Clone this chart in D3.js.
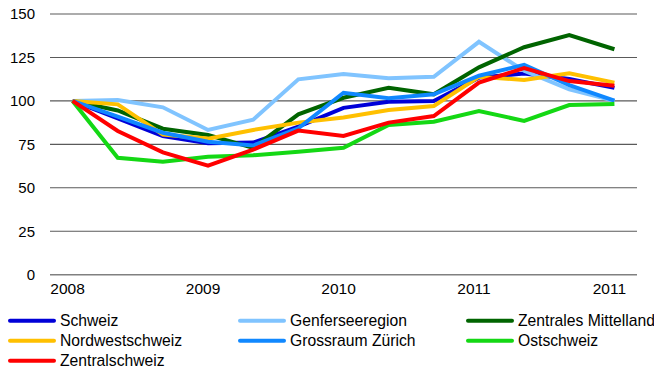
<!DOCTYPE html>
<html>
<head>
<meta charset="utf-8">
<script src="https://cdn.jsdelivr.net/npm/d3@7"></script>
<style>
  html, body { margin: 0; padding: 0; background: #fff; }
  svg { display: block; font-family: "Liberation Sans", Arial, sans-serif; }
</style>
</head>
<body>
<svg id="chart" width="654" height="372"></svg>
<script>
// Period labels along the x axis (only every third period is labelled)
const categories = ["2008", "", "", "2009", "", "", "2010", "", "", "2011", "", "", "2011"];
const yTicks = [0, 25, 50, 75, 100, 125, 150];

// Index values per region (2008 = 100)
const schweiz          = [100, 90, 79.8, 75.6, 76, 85.2, 96, 99.5, 99.9, 113.4, 115.7, 112.6, 107.5];
const genferseeregion  = [100, 100.5, 96.3, 83.3, 89.2, 112.4, 115.5, 113, 113.9, 134, 117.3, 106.7, 100];
const zentralesMittel  = [100, 94.5, 84, 80.4, 73, 92.3, 101.8, 107.6, 103.8, 119.3, 130.9, 137.9, 129.7];
const nordwestschweiz  = [100, 98, 80.6, 78.3, 83.3, 87.5, 90.5, 94.8, 97.1, 113.9, 112, 115.9, 110.5];
const grossraumZuerich = [100, 91, 81.7, 76.5, 74.3, 84.2, 104.7, 101.5, 103.8, 114.5, 120.7, 109.1, 100.2];
const ostschweiz       = [100, 67.3, 65, 67.9, 68.7, 70.8, 73, 86.1, 88, 94.2, 88.5, 97.6, 98.2];
const zentralschweiz   = [100, 82.7, 70.4, 62.8, 72, 82.9, 79.8, 87.5, 91.3, 110.5, 118.9, 111.4, 108.7];

const seriesNames  = ["Schweiz", "Genferseeregion", "Zentrales Mittelland", "Nordwestschweiz", "Grossraum Zürich", "Ostschweiz", "Zentralschweiz"];
const seriesValues = [schweiz, genferseeregion, zentralesMittel, nordwestschweiz, grossraumZuerich, ostschweiz, zentralschweiz];
const seriesColors = ["#0000d8", "#80c4ff", "#006400", "#ffc000", "#1088ff", "#14d814", "#ff0000"];

const FONT = "'Liberation Sans', Arial, sans-serif";
const svg = d3.select("#chart");
const plot = { left: 50, right: 637, top: 14, bottom: 274.7 };

const x = d3.scaleBand()
  .domain(d3.range(categories.length))
  .range([plot.left, plot.right])
  .padding(0);
const y = d3.scaleLinear().domain([0, 150]).range([plot.bottom, plot.top]);
const cx = i => x(i) + x.bandwidth() / 2;

// Horizontal gridlines
svg.append("g")
  .selectAll("line")
  .data(yTicks)
  .join("line")
  .attr("x1", plot.left)
  .attr("x2", plot.right)
  .attr("y1", d => y(d))
  .attr("y2", d => y(d))
  .attr("stroke", d => d === 0 ? "#808080" : "#5a5a5a")
  .attr("stroke-width", d => d === 0 ? 1.6 : 1.1);

// Y axis labels
const yAxis = svg.append("g")
  .attr("transform", `translate(${plot.left},0)`)
  .call(d3.axisLeft(y).tickValues(yTicks).tickSize(0).tickPadding(15));
yAxis.select(".domain").remove();
yAxis.selectAll("text")
  .style("font-size", "15px")
  .style("font-family", FONT)
  .attr("fill", "#000");

// X axis labels
const xAxis = svg.append("g")
  .attr("transform", `translate(0,${plot.bottom})`)
  .call(d3.axisBottom(x).tickSize(0).tickPadding(8).tickFormat(i => categories[i]));
xAxis.select(".domain").remove();
xAxis.selectAll("text")
  .style("font-size", "15.5px")
  .style("font-family", FONT)
  .attr("dx", -5)
  .attr("fill", "#000");

// Lines
const line = d3.line()
  .x((d, i) => cx(i))
  .y(d => y(d));

svg.append("g")
  .selectAll("path")
  .data(seriesValues)
  .join("path")
  .attr("d", d => line(d))
  .attr("fill", "none")
  .attr("stroke", (d, i) => seriesColors[i])
  .attr("stroke-width", 4)
  .attr("stroke-linejoin", "miter");

// Legend: three columns, filled row by row
const legendCols = [10, 240, 468];
const legendRows = [320.7, 340.7, 360.7];
const legend = svg.append("g")
  .selectAll("g")
  .data(seriesNames)
  .join("g")
  .attr("transform", (d, i) => `translate(${legendCols[i % 3]},${legendRows[Math.floor(i / 3)]})`);

legend.append("line")
  .attr("x1", 0)
  .attr("x2", 44)
  .attr("stroke", (d, i) => seriesColors[i])
  .attr("stroke-width", 4)
  .attr("stroke-linecap", "round");

legend.append("text")
  .attr("x", 50)
  .attr("dy", "0.35em")
  .style("font-size", "15.7px")
  .style("font-family", FONT)
  .attr("fill", "#000")
  .text(d => d);
</script>
</body>
</html>
